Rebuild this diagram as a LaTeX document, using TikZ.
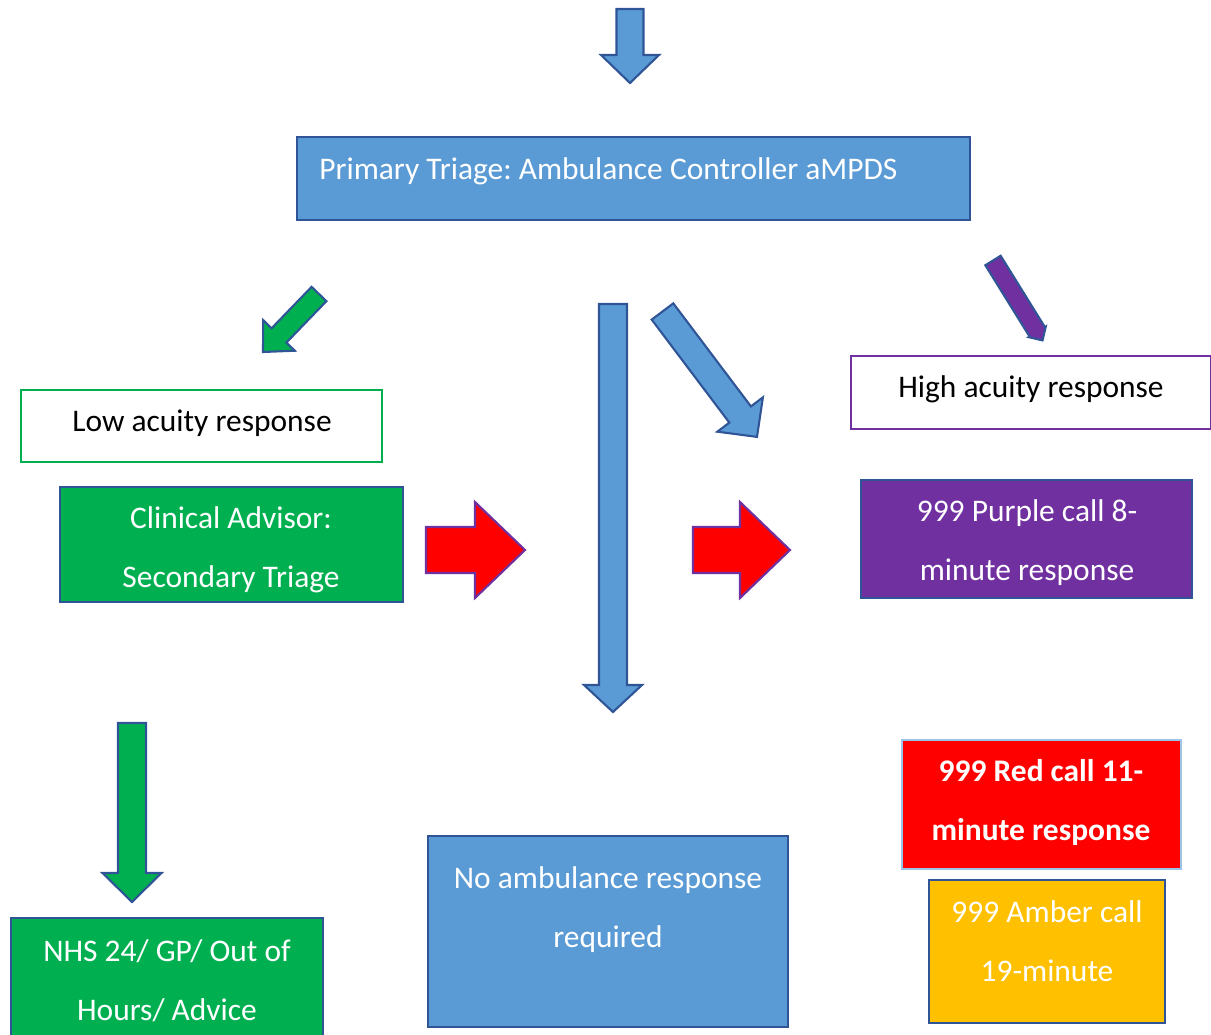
\documentclass[tikz,border=0pt]{standalone}
\usepackage{fontspec}
\setmainfont{Carlito}
\usepackage{tikz}
\frenchspacing

\definecolor{tblue}{HTML}{5B9BD5}
\definecolor{tnavy}{HTML}{2F5597}
\definecolor{tgreen}{HTML}{00B050}
\definecolor{tpurple}{HTML}{7030A0}
\definecolor{tamber}{HTML}{FFC000}
\definecolor{tred}{HTML}{FF0000}
\definecolor{tlight}{HTML}{9DC3E6}

% block arrow: fill, draw, tail, angle, length, shaft half, head half, head length
\newcommand{\blockarr}[8]{%
    \begin{scope}[shift={#3}, rotate=#4]
        \draw[fill=#1, draw=#2, line width=1.2pt, line join=miter]
            (0,-#6) -- ({#5-#8},-#6) -- ({#5-#8},-#7) -- (#5,0)
            -- ({#5-#8},#7) -- ({#5-#8},#6) -- (0,#6) -- cycle;
    \end{scope}}

\begin{document}
\begin{tikzpicture}[x=0.02cm, y=-0.02cm,
    box/.style={shape=rectangle, draw=tnavy, line width=1.2pt, inner sep=0pt},
    txt/.style={text=white, align=center, inner sep=0pt, font=\fontsize{17.9}{33.5}\selectfont}]
    \useasboundingbox (0,0) rectangle (1211,1035);

    \node[box, fill=tblue, minimum width=13.46cm, minimum height=1.66cm] at (633.5,178.5) (Triage) {};
    \node[txt, anchor=west] at (319,171) (TriageT) {Primary Triage: Ambulance Controller aMPDS};

    \node[box, draw=tgreen, fill=white, minimum width=7.22cm, minimum height=1.44cm] at (201.5,426) (Low) {};
    \node[txt, text=black] at (202,423) (LowT) {Low acuity response};
    \node[box, fill=tgreen, minimum width=6.86cm, minimum height=2.30cm] at (231.5,544.5) (Clin) {};
    \node[txt] at (231,549.5) (ClinT) {Clinical Advisor:\\Secondary Triage};

    \node[box, draw=tpurple, fill=white, minimum width=7.20cm, minimum height=1.46cm] at (1031,392.5) (High) {};
    \node[txt, text=black] at (1031,389) (HighT) {High acuity response};
    \node[box, fill=tpurple, minimum width=6.62cm, minimum height=2.36cm] at (1026.5,539) (Purple) {};
    \node[txt] at (1027,542.5) (PurpleT) {999 Purple call 8-\\minute response};

    \node[box, draw=tlight, fill=tred, minimum width=5.58cm, minimum height=2.58cm] at (1041.5,804.5) (Red) {};
    \node[txt, font=\fontsize{17.9}{33.5}\selectfont\bfseries] at (1041,802) (RedT) {999 Red call 11-\\minute response};
    \node[box, fill=tamber, minimum width=4.72cm, minimum height=2.86cm] at (1047,951.5) (Amber) {};
    \node[txt] at (1047,941) (AmberT) {999 Amber call\\19-minute};

    \node[box, fill=tblue, minimum width=7.20cm, minimum height=3.82cm] at (608,931.5) (NoAmb) {};
    \node[txt] at (608,910) (NoAmbT) {No ambulance response\\required};
    \node[box, fill=tgreen, minimum width=6.24cm, minimum height=2.54cm] at (167,981.5) (NHS) {};
    \node[txt] at (167,981) (NHST) {NHS 24/ GP/ Out of\\Hours/ Advice};

    \blockarr{tblue}{tnavy}{(630,9)}{-90}{74}{13.5}{29}{28}
    \blockarr{tgreen}{tnavy}{(319,294)}{-134}{80.6}{10.3}{22}{23}
    \blockarr{tblue}{tnavy}{(613,304)}{-90}{408}{14}{29}{27}
    \blockarr{tblue}{tnavy}{(662.5,311.5)}{-53}{157}{13.5}{28.5}{28}
    \blockarr{tpurple}{tnavy}{(993,260.5)}{-58.2}{94}{9}{10}{10}
    \blockarr{tred}{tpurple}{(426,550)}{0}{99}{23}{48}{50}
    \blockarr{tred}{tpurple}{(693,550)}{0}{97}{23}{48}{50}
    \blockarr{tgreen}{tnavy}{(132,723)}{-90}{179}{14}{29.5}{29}
\end{tikzpicture}
\end{document}
